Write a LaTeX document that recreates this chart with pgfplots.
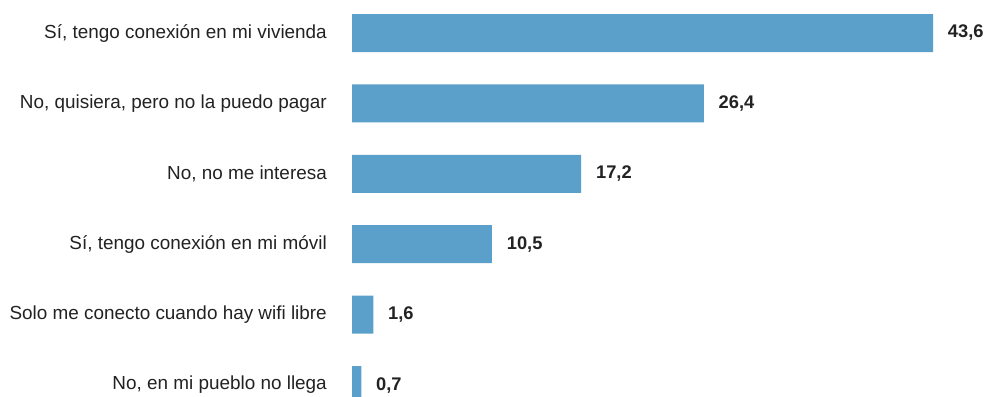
\documentclass[border=0pt]{standalone}
\usepackage{pgfplots}
\pgfplotsset{compat=1.18}
\usepackage{fontspec}
\setmainfont{Liberation Sans}
\definecolor{barblue}{HTML}{5AA0CB}
\definecolor{txt}{HTML}{222222}
\begin{document}
\begin{tikzpicture}
\begin{axis}[
  name=ax,
  scale only axis,
  width=581pt, height=422.4pt,
  xbar, bar width=38pt,
  xmin=0, xmax=43.6,
  ymin=-0.5, ymax=5.5,
  y dir=reverse,
  axis line style={draw=none},
  xtick=\empty,
  clip=false,
  ytick={0,1,2,3,4,5},
  yticklabels={{Sí, tengo conexión en mi vivienda},{No, quisiera, pero no la puedo pagar},{No, no me interesa},{Sí, tengo conexión en mi móvil},{Solo me conecto cuando hay wifi libre},{No, en mi pueblo no llega}},
  major tick length=0pt,
  tick style={draw=none},
  yticklabel style={anchor=east, inner sep=0pt, xshift=-25pt, font=\fontsize{18.9}{22}\selectfont, text=txt},
  nodes near coords,
  nodes near coords style={anchor=west, inner sep=0pt, xshift=14.7pt, font=\fontsize{18.3}{22}\selectfont\bfseries, text=txt,
    /pgf/number format/.cd, use comma, fixed, fixed zerofill, precision=1, assume math mode=true},
]
\addplot[fill=barblue, draw=none] coordinates {(43.6,0) (26.4,1) (17.2,2) (10.5,3) (1.6,4) (0.7,5)};
\coordinate (tl) at (axis cs:-26.415,-0.469);
\coordinate (br) at (axis cs:47.50,5.170);
\end{axis}
\pgfresetboundingbox
\useasboundingbox (tl) rectangle (br);
\end{tikzpicture}
\end{document}
